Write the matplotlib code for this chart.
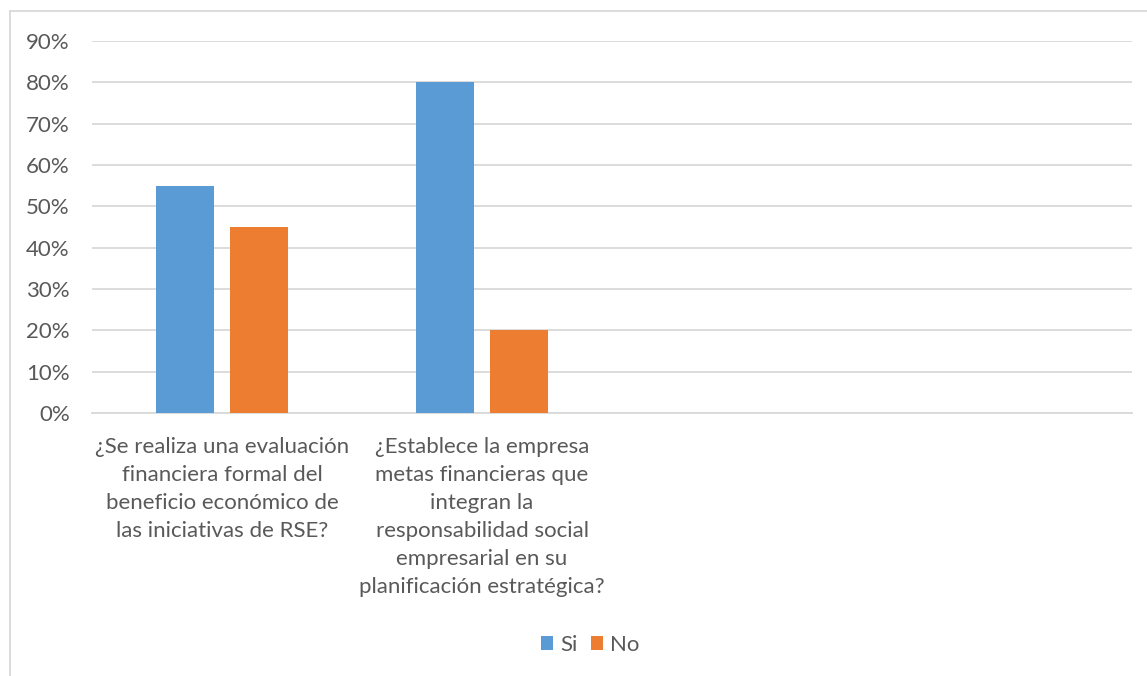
import matplotlib.pyplot as plt
import numpy as np

plt.rcParams['font.family'] = ['Lato', 'DejaVu Sans']

# data
preguntas = ['¿Se realiza una evaluación\nfinanciera formal del\nbeneficio económico de\nlas iniciativas de RSE?',
             '¿Establece la empresa\nmetas financieras que\nintegran la\nresponsabilidad social\nempresarial en su\nplanificación estratégica?',
             '', '']
si = [0.55, 0.80, np.nan, np.nan]
no = [0.45, 0.20, np.nan, np.nan]
yticks = [0, 0.1, 0.2, 0.3, 0.4, 0.5, 0.6, 0.7, 0.8, 0.9]

W, H = 1147, 676
fig = plt.figure(figsize=(W / 100, H / 100), dpi=100)
ax = fig.add_axes([92 / W, 1 - 413 / H, (1132 - 92) / W, (413 - 41) / H])

x = np.arange(len(preguntas))
bw = 58 / 260
off = 37 / 260
ax.bar(x - off, si, bw, color='#5B9BD5', label='Si', zorder=3)
ax.bar(x + off, no, bw, color='#ED7D31', label='No', zorder=3)

ax.set_xlim(-0.5, len(preguntas) - 0.5)
ax.set_ylim(0, 0.9)
ax.set_yticks(yticks)
ax.set_yticklabels(['{:.0f}%'.format(v * 100) for v in yticks])
ax.yaxis.grid(True, color='#D9D9D9', linewidth=1.3, zorder=0)
ax.set_xticks(x)
ax.set_xticklabels(preguntas, linespacing=1.5)
ax.tick_params(axis='both', length=0, labelsize=16, colors='#595959')
ax.tick_params(axis='y', pad=16)
ax.tick_params(axis='x', pad=17)
for s in ['top', 'right', 'left']:
    ax.spines[s].set_visible(False)
ax.spines['bottom'].set_color('#D9D9D9')
ax.spines['bottom'].set_linewidth(1.3)

leg = fig.legend(loc='center', bbox_to_anchor=(590 / W, 1 - 645 / H), ncol=2, frameon=False,
                 fontsize=16, handlelength=0.55, handleheight=0.55, handletextpad=0.3, columnspacing=0.6)
for t in leg.get_texts():
    t.set_color('#595959')

# chart border (left and top visible)
fig.add_artist(plt.Line2D([10 / W, 10 / W], [0, 1 - 11 / H], color='#D9D9D9', linewidth=1.3))
fig.add_artist(plt.Line2D([10 / W, 1], [1 - 11 / H, 1 - 11 / H], color='#D9D9D9', linewidth=1.3))

fig.savefig('out.png', dpi=100)
